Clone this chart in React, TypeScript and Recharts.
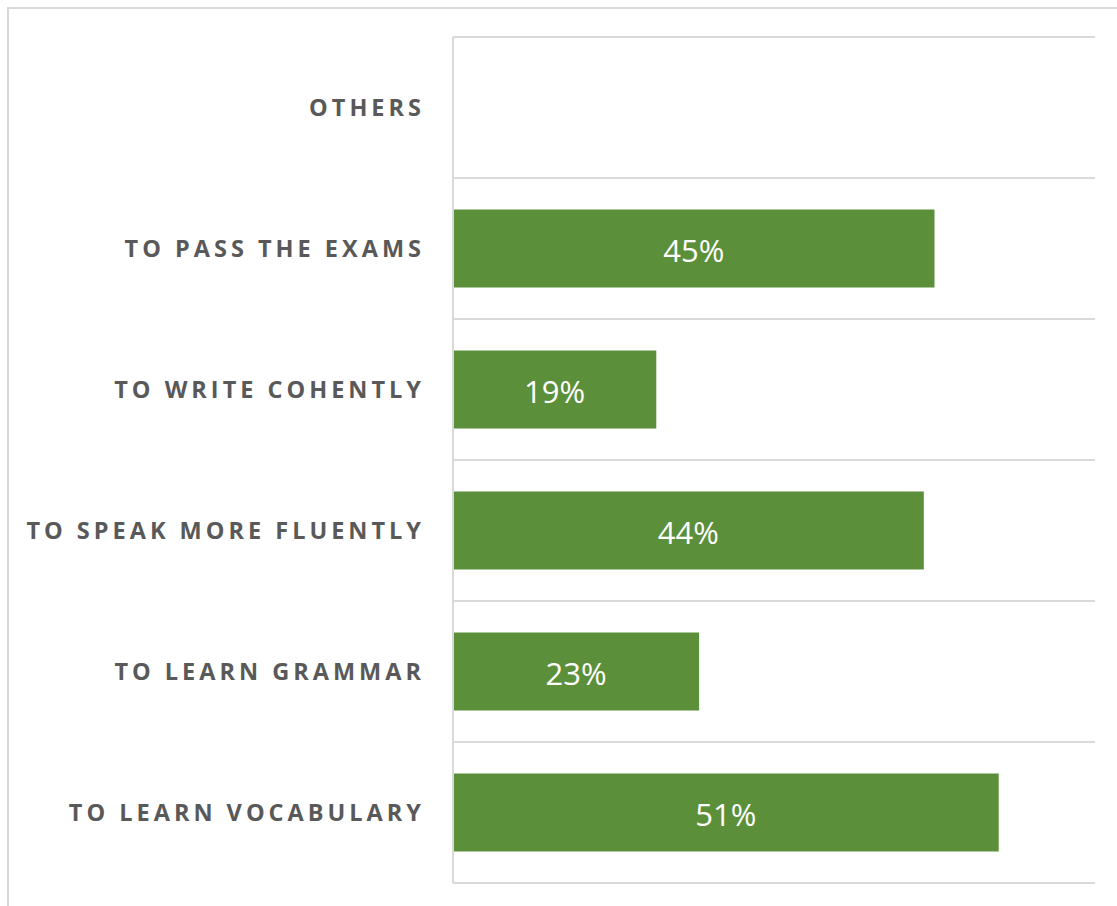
import { BarChart, Bar, XAxis, YAxis, CartesianGrid, LabelList } from "recharts";

const categories = [
  "OTHERS",
  "TO PASS THE EXAMS",
  "TO WRITE COHENTLY",
  "TO SPEAK MORE FLUENTLY",
  "TO LEARN GRAMMAR",
  "TO LEARN VOCABULARY",
];
const shares = [0, 45, 19, 44, 23, 51];

const data = categories.map((name, i) => ({ name, value: shares[i] }));

const GRID = "#d9d9d9";
const GREEN = "#5b8f39";

function CategoryTick({ x, y, payload }: any) {
  return (
    <text
      x={x - 20}
      y={y - 1}
      textAnchor="end"
      dominantBaseline="central"
      fill="#595959"
      fontSize={23.5}
      fontWeight={700}
      letterSpacing={4}
      fontFamily="'Open Sans', sans-serif"
    >
      {payload.value}
    </text>
  );
}

// lines between categories instead of through their centres
const bandLines = ({ offset }: any) =>
  Array.from({ length: categories.length + 1 }, (_, i) => offset.top + (i * offset.height) / categories.length);

export default function App() {
  return (
    <div style={{ position: "absolute", left: 0, top: 0, width: 1117, height: 906, background: "#fff", overflow: "hidden" }}>
      <div
        style={{
          position: "absolute",
          left: 7,
          top: 7,
          width: 1130,
          height: 920,
          borderTop: `2px solid ${GRID}`,
          borderLeft: `2px solid ${GRID}`,
        }}
      />
      <div style={{ position: "absolute", left: 0, top: 0 }}>
        <BarChart
          width={1117}
          height={906}
          data={data}
          layout="vertical"
          margin={{ top: 37, right: 22, bottom: 23, left: 0 }}
          barCategoryGap="22.3%"
        >
          <CartesianGrid
            vertical={false}
            stroke={GRID}
            strokeWidth={2}
            horizontalCoordinatesGenerator={bandLines}
          />
          <XAxis type="number" domain={[0, 60]} hide />
          <YAxis
            type="category"
            dataKey="name"
            width={453}
            axisLine={{ stroke: GRID, strokeWidth: 2 }}
            tickLine={false}
            tick={<CategoryTick />}
          />
          <Bar dataKey="value" fill={GREEN} isAnimationActive={false}>
            <LabelList
              dataKey="value"
              position="center"
              formatter={(v: any) => (v > 0 ? `${v}%` : "")}
              fill="#ffffff"
              fontSize={31}
              dy={3}
              fontFamily="'Open Sans', sans-serif"
            />
          </Bar>
        </BarChart>
      </div>
    </div>
  );
}
